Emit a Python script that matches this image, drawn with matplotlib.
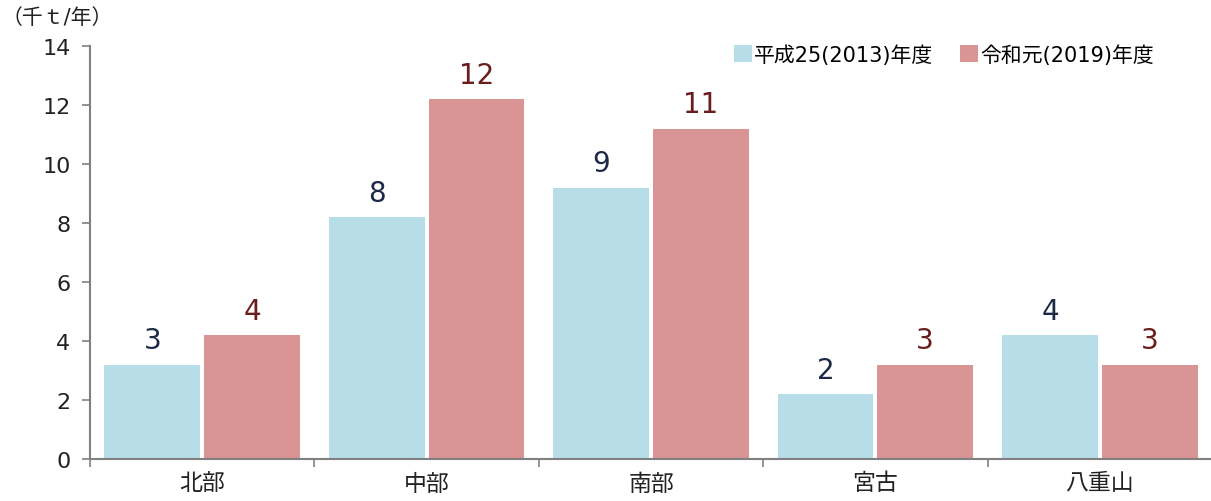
import numpy as np
from matplotlib import pyplot as plt

plt.rcParams['font.family'] = ['DejaVu Sans', 'Noto Sans CJK JP']

regions = ['北部', '中部', '南部', '宮古', '八重山']
y_2013 = [3.2, 8.2, 9.2, 2.2, 4.2]
y_2019 = [4.2, 12.2, 11.2, 3.2, 3.2]
series_names = ['平成25(2013)年度', '令和元(2019)年度']
yticks = [0, 2, 4, 6, 8, 10, 12, 14]

x = np.arange(len(regions))
w = 0.427
off = 0.222

fig = plt.figure(figsize=(12.11, 5.02), dpi=100)
ax = fig.add_axes([90 / 1211, 1 - 460 / 502, 1122 / 1211, 413 / 502])

b1 = ax.bar(x - off, y_2013, w, color='#b7dee8', label=series_names[0])
b2 = ax.bar(x + off, y_2019, w, color='#d99594', label=series_names[1])

# value labels above each bar
for bars, vals, col in [(b1, y_2013, '#1c2a48'), (b2, y_2019, '#6a1d1d')]:
    for r, v in zip(bars, vals):
        ax.text(r.get_x() + r.get_width() / 2, v + 0.35, f'{v:.0f}',
                ha='center', va='bottom', fontsize=20, color=col)

ax.set_xlim(-0.5, 4.5)
ax.set_ylim(0, 14)
ax.set_yticks(yticks)
ax.tick_params(axis='y', labelsize=16, length=6, width=1.2, color='#808080',
               pad=8, labelcolor='#222222')

ax.set_xticks(x)
ax.set_xticklabels(regions, fontsize=16.5, color='#222222')
ax.set_xticks(np.arange(-0.5, 5, 1), minor=True)
ax.tick_params(axis='x', which='major', length=0, pad=9)
ax.tick_params(axis='x', which='minor', length=6, width=1.2, color='#808080')

for s in ['top', 'right']:
    ax.spines[s].set_visible(False)
for s in ['left', 'bottom']:
    ax.spines[s].set_color('#808080')
    ax.spines[s].set_linewidth(1.5)

ax.legend(loc='upper right', bbox_to_anchor=(0.965, 1.05), ncol=2, frameon=False,
          fontsize=15, handlelength=0.85, handleheight=0.85, handletextpad=0.1,
          columnspacing=1.3)

fig.text(2 / 1211, 1 - 18 / 502, '（千ｔ/年）', fontsize=15, va='center',
         color='#222222')

fig.savefig('out.png', dpi=100)
